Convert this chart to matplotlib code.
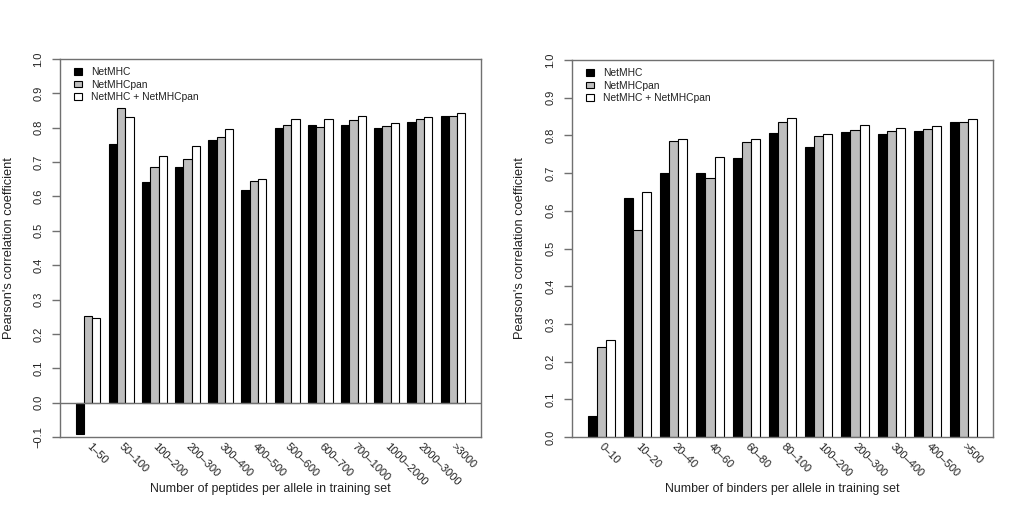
import matplotlib
matplotlib.use("Agg")
import matplotlib.pyplot as plt
from matplotlib.patches import Patch

plt.rcParams['font.family'] = ['Liberation Sans', 'DejaVu Sans']

series_names = ["NetMHC", "NetMHCpan", "NetMHC + NetMHCpan"]
series_colors = ["#000000", "#bebebe", "#ffffff"]

pep_categories = ["1–50", "50–100", "100–200", "200–300", "300–400", "400–500",
                  "500–600", "600–700", "700–1000", "1000–2000", "2000–3000", ">3000"]
pep_netmhc = [-0.090, 0.754, 0.642, 0.687, 0.765, 0.620, 0.800, 0.808, 0.807, 0.798, 0.817, 0.835]
pep_netmhcpan = [0.251, 0.856, 0.686, 0.710, 0.774, 0.646, 0.808, 0.803, 0.822, 0.804, 0.824, 0.833]
pep_combined = [0.246, 0.830, 0.719, 0.748, 0.795, 0.652, 0.826, 0.824, 0.833, 0.813, 0.832, 0.842]

bind_categories = ["0–10", "10–20", "20–40", "40–60", "60–80", "80–100",
                   "100–200", "200–300", "300–400", "400–500", ">500"]
bind_netmhc = [0.056, 0.634, 0.700, 0.700, 0.740, 0.807, 0.769, 0.808, 0.804, 0.812, 0.835]
bind_netmhcpan = [0.238, 0.548, 0.785, 0.686, 0.782, 0.836, 0.798, 0.813, 0.811, 0.816, 0.836]
bind_combined = [0.258, 0.651, 0.791, 0.743, 0.791, 0.847, 0.805, 0.827, 0.819, 0.825, 0.843]

yticks_left = [-0.1, 0.0, 0.1, 0.2, 0.3, 0.4, 0.5, 0.6, 0.7, 0.8, 0.9, 1.0]
yticks_right = [0.0, 0.1, 0.2, 0.3, 0.4, 0.5, 0.6, 0.7, 0.8, 0.9, 1.0]

frame_col = "#707070"
text_col = "#222222"
tick_fs = 8.0
legend_fs = 7.4
xlabel_fs = 8.9
ylabel_fs = 9.3

fig = plt.figure(figsize=(10.24, 5.12), dpi=100)
W, H = 1024, 512


def make_panel(rect, cats, series, yticks, ylim, xlabel, zero_line):
    ax = fig.add_axes(rect)
    n = len(cats)
    centers = []
    for i in range(n):
        start = 1 + 4 * i
        centers.append(start + 1.5)
        for j, vals in enumerate(series):
            ax.bar(start + 0.5 + j, vals[i], width=1.0, color=series_colors[j],
                   edgecolor="black", linewidth=0.8, zorder=2)
    total = 4 * n
    ext = (total - 1) * 0.04
    ax.set_xlim(1 - ext, total + ext)
    ax.set_ylim(*ylim)
    if zero_line:
        ax.axhline(0, color=frame_col, linewidth=1.0, zorder=3)
    for s in ax.spines.values():
        s.set_color(frame_col)
        s.set_linewidth(1.0)
    ax.set_yticks(yticks)
    ax.set_yticklabels([("−%.1f" % abs(v)) if v < 0 else "%.1f" % v for v in yticks])
    ax.tick_params(axis='y', direction='out', length=6, width=1.0, color=frame_col,
                   labelsize=tick_fs, labelcolor=text_col, pad=6, labelrotation=90)
    for lab in ax.get_yticklabels():
        lab.set_va('center')
    ax.set_xticks(centers)
    ax.set_xticklabels(cats, rotation=-45, ha='left', va='center',
                       rotation_mode='anchor', fontsize=tick_fs, color=text_col)
    ax.tick_params(axis='x', length=0, pad=6)
    ax.set_xlabel(xlabel, fontsize=xlabel_fs, color=text_col)
    ax.xaxis.set_label_coords(0.5, -0.138)
    ax.xaxis.label.set_va('center')
    ax.set_ylabel("Pearson's correlation coefficient", fontsize=ylabel_fs, color=text_col)
    handles = [Patch(facecolor=c, edgecolor='black', linewidth=0.8) for c in series_colors]
    ax.legend(handles, series_names, loc='upper left', bbox_to_anchor=(0.034, 0.978),
              frameon=False, fontsize=legend_fs, handlelength=0.75, handleheight=0.65,
              handletextpad=0.9, labelspacing=0.22, borderpad=0, borderaxespad=0,
              labelcolor=text_col)
    return ax


axL = make_panel([60 / W, 1 - 437 / H, 421 / W, 378 / H], pep_categories,
                 [pep_netmhc, pep_netmhcpan, pep_combined], yticks_left, (-0.1, 1.0),
                 "Number of peptides per allele in training set", True)
axL.yaxis.set_label_coords((15 - 60) / 421, 0.5)

axR = make_panel([572 / W, 1 - 437 / H, 421 / W, 377 / H], bind_categories,
                 [bind_netmhc, bind_netmhcpan, bind_combined], yticks_right, (0.0, 1.0),
                 "Number of binders per allele in training set", False)
axR.yaxis.set_label_coords((526 - 572) / 421, 0.5)

fig.savefig("out.png", dpi=100, facecolor="white")
